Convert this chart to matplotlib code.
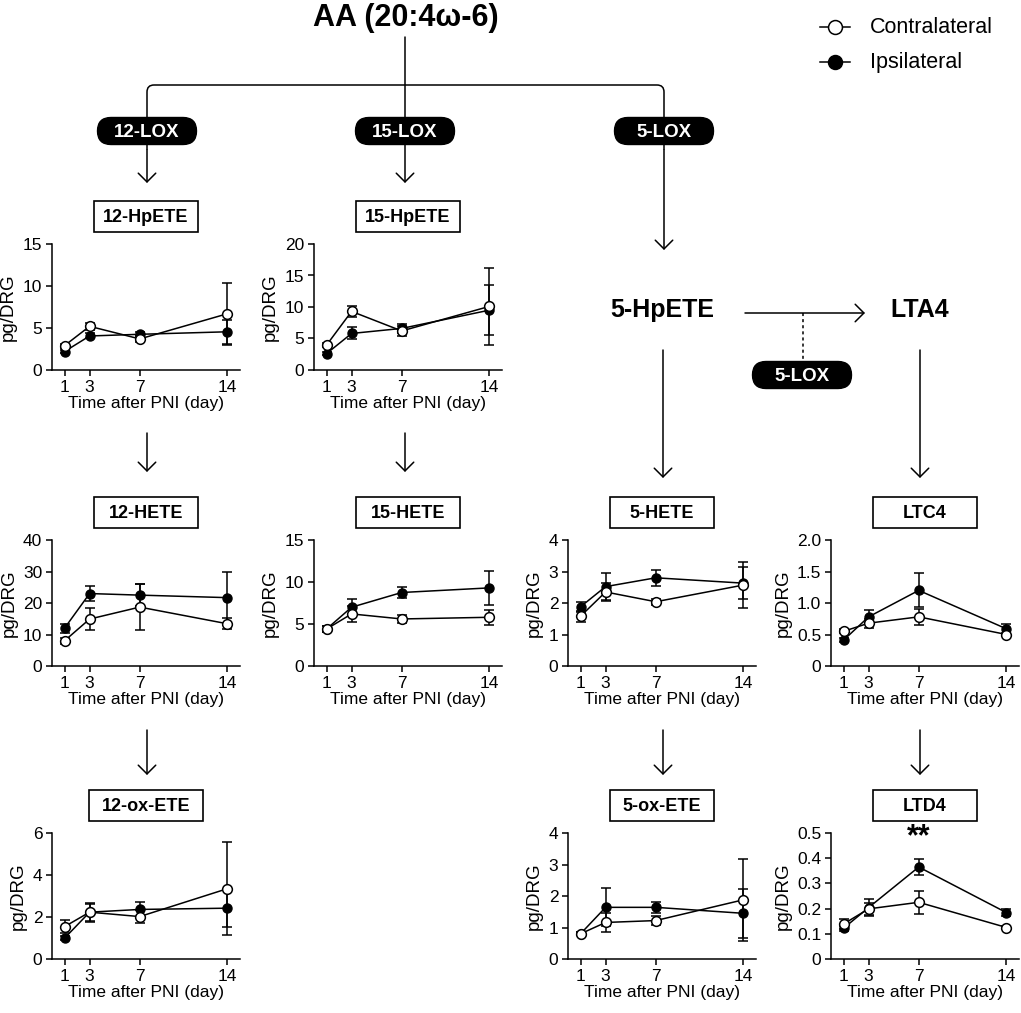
import matplotlib
matplotlib.use("Agg")
import matplotlib.pyplot as plt
from matplotlib.patches import FancyArrowPatch, FancyBboxPatch, Rectangle
from matplotlib.path import Path
from matplotlib.patches import PathPatch

plt.rcParams["font.family"] = ["Liberation Sans", "DejaVu Sans"]

W, H = 1021, 1013

days = [1, 3, 7, 14]

# 12-HpETE
hpete12_contra = [2.9, 5.2, 3.7, 6.7]
hpete12_contra_err = [0.25, 0.45, 0.4, 3.7]
hpete12_ipsi = [2.2, 4.05, 4.25, 4.55]
hpete12_ipsi_err = [0.2, 0.3, 0.25, 1.4]

# 15-HpETE
hpete15_contra = [3.95, 9.3, 6.2, 10.1]
hpete15_contra_err = [0.3, 0.9, 0.8, 6.1]
hpete15_ipsi = [2.6, 5.8, 6.6, 9.5]
hpete15_ipsi_err = [0.2, 0.95, 0.7, 4.0]

# 12-HETE
hete12_contra = [8.0, 14.9, 18.7, 13.4]
hete12_contra_err = [1.0, 3.5, 7.2, 1.7]
hete12_ipsi = [12.0, 23.0, 22.5, 21.7]
hete12_ipsi_err = [1.4, 2.5, 3.5, 8.3]

# 15-HETE
hete15_contra = [4.4, 6.2, 5.6, 5.8]
hete15_contra_err = [0.4, 1.0, 0.5, 0.9]
hete15_ipsi = [4.4, 7.0, 8.75, 9.3]
hete15_ipsi_err = [0.4, 1.0, 0.6, 2.0]

# 5-HETE
hete5_contra = [1.58, 2.35, 2.04, 2.57]
hete5_contra_err = [0.17, 0.28, 0.1, 0.72]
hete5_ipsi = [1.88, 2.52, 2.8, 2.63]
hete5_ipsi_err = [0.15, 0.43, 0.26, 0.5]

# LTC4
ltc4_contra = [0.55, 0.68, 0.78, 0.5]
ltc4_contra_err = [0.03, 0.07, 0.13, 0.03]
ltc4_ipsi = [0.41, 0.78, 1.2, 0.59]
ltc4_ipsi_err = [0.03, 0.11, 0.27, 0.08]

# 12-ox-ETE
oxete12_contra = [1.54, 2.23, 2.02, 3.35]
oxete12_contra_err = [0.3, 0.45, 0.3, 2.2]
oxete12_ipsi = [0.99, 2.23, 2.36, 2.42]
oxete12_ipsi_err = [0.1, 0.4, 0.35, 0.9]

# 5-ox-ETE
oxete5_contra = [0.8, 1.16, 1.22, 1.88]
oxete5_contra_err = [0.05, 0.3, 0.15, 1.3]
oxete5_ipsi = [0.8, 1.64, 1.64, 1.45]
oxete5_ipsi_err = [0.05, 0.6, 0.18, 0.78]

# LTD4
ltd4_contra = [0.139, 0.199, 0.225, 0.125]
ltd4_contra_err = [0.02, 0.025, 0.045, 0.005]
ltd4_ipsi = [0.122, 0.204, 0.365, 0.184]
ltd4_ipsi_err = [0.01, 0.035, 0.03, 0.015]

fig = plt.figure(figsize=(W / 100, H / 100), dpi=100)

# overlay in pixel coordinates for the pathway diagram
ov = fig.add_axes([0, 0, 1, 1])
ov.set_xlim(0, W)
ov.set_ylim(H, 0)
ov.axis("off")


def arrow(x0, y0, x1, y1):
    ov.add_patch(FancyArrowPatch((x0, y0), (x1, y1),
                                 arrowstyle="->,head_length=0.45,head_width=0.45",
                                 mutation_scale=14, lw=1.1, color="black",
                                 shrinkA=0, shrinkB=0))


def pill(x, y, label, w=99, h=27):
    ov.add_patch(FancyBboxPatch((x - w / 2, y - h / 2), w, h,
                                boxstyle=f"round,pad=0,rounding_size={h / 2}",
                                facecolor="black", edgecolor="black", zorder=5))
    ov.text(x, y + 1, label, color="white", fontsize=13.5, fontweight="bold",
            ha="center", va="center", zorder=6)


def label_box(x, y, label, w=104, h=31):
    ov.add_patch(Rectangle((x - w / 2, y - h / 2), w, h, facecolor="white",
                           edgecolor="black", lw=1.2, zorder=4))
    ov.text(x, y + 1, label, fontsize=13, fontweight="bold",
            ha="center", va="center", zorder=5)


# top of tree
ov.text(406, 18, "AA (20:4\u03c9-6)", fontsize=22, fontweight="bold",
        ha="center", va="center")
r = 7
verts = [(147, 150), (147, 85 + r), (147, 85), (147 + r, 85), (664 - r, 85),
         (664, 85), (664, 85 + r), (664, 150)]
codes = [Path.MOVETO, Path.LINETO, Path.CURVE3, Path.CURVE3, Path.LINETO,
         Path.CURVE3, Path.CURVE3, Path.LINETO]
ov.add_patch(PathPatch(Path(verts, codes), fill=False, lw=1.1, color="black"))
arrow(147, 150, 147, 183)
arrow(405, 37, 405, 183)
arrow(664, 150, 664, 250)
pill(147, 131, "12-LOX")
pill(405, 131, "15-LOX")
pill(664, 131, "5-LOX")

ov.text(662, 310, "5-HpETE", fontsize=18, fontweight="bold", ha="center", va="center")
ov.text(920, 310, "LTA4", fontsize=18, fontweight="bold", ha="center", va="center")
arrow(745, 313, 865, 313)
ov.plot([803, 803], [313, 362], ls=(0, (2, 2)), color="black", lw=1.1)
pill(802, 375, "5-LOX")

# arrows between rows
arrow(147, 433, 147, 472)
arrow(405, 433, 405, 472)
arrow(663, 350, 663, 478)
arrow(920, 350, 920, 478)
arrow(147, 730, 147, 775)
arrow(663, 730, 663, 775)
arrow(920, 730, 920, 775)

# legend
for yy, face, txt in [(27, "white", "Contralateral"), (62, "black", "Ipsilateral")]:
    ov.plot([820, 850], [yy, yy], color="black", lw=1.1)
    ov.plot([835], [yy], "o", ms=10, mfc=face, mec="black", mew=1.1)
    ov.text(870, yy, txt, fontsize=15.5, ha="left", va="center")

# panels: (col, row, label, contra, contra_err, ipsi, ipsi_err, yticks, ticklabels, box width)
col_left = [52, 314, 568, 831]
row_top = [244, 540, 833]
ax_w, ax_h = 188, 126

panels = [
    (0, 0, "12-HpETE", hpete12_contra, hpete12_contra_err, hpete12_ipsi, hpete12_ipsi_err,
     [0, 5, 10, 15], ["0", "5", "10", "15"], 104),
    (1, 0, "15-HpETE", hpete15_contra, hpete15_contra_err, hpete15_ipsi, hpete15_ipsi_err,
     [0, 5, 10, 15, 20], ["0", "5", "10", "15", "20"], 104),
    (0, 1, "12-HETE", hete12_contra, hete12_contra_err, hete12_ipsi, hete12_ipsi_err,
     [0, 10, 20, 30, 40], ["0", "10", "20", "30", "40"], 104),
    (1, 1, "15-HETE", hete15_contra, hete15_contra_err, hete15_ipsi, hete15_ipsi_err,
     [0, 5, 10, 15], ["0", "5", "10", "15"], 104),
    (2, 1, "5-HETE", hete5_contra, hete5_contra_err, hete5_ipsi, hete5_ipsi_err,
     [0, 1, 2, 3, 4], ["0", "1", "2", "3", "4"], 104),
    (3, 1, "LTC4", ltc4_contra, ltc4_contra_err, ltc4_ipsi, ltc4_ipsi_err,
     [0, 0.5, 1.0, 1.5, 2.0], ["0", "0.5", "1.0", "1.5", "2.0"], 104),
    (0, 2, "12-ox-ETE", oxete12_contra, oxete12_contra_err, oxete12_ipsi, oxete12_ipsi_err,
     [0, 2, 4, 6], ["0", "2", "4", "6"], 114),
    (2, 2, "5-ox-ETE", oxete5_contra, oxete5_contra_err, oxete5_ipsi, oxete5_ipsi_err,
     [0, 1, 2, 3, 4], ["0", "1", "2", "3", "4"], 104),
    (3, 2, "LTD4", ltd4_contra, ltd4_contra_err, ltd4_ipsi, ltd4_ipsi_err,
     [0, 0.1, 0.2, 0.3, 0.4, 0.5], ["0", "0.1", "0.2", "0.3", "0.4", "0.5"], 104),
]

for col, row, name, c, ce, ip, ipe, yt, ytl, bw in panels:
    left = col_left[col]
    top = row_top[row]
    ax = fig.add_axes([left / W, 1 - (top + ax_h) / H, ax_w / W, ax_h / H])
    ax.errorbar(days, ip, yerr=ipe, fmt="-o", color="black", mfc="black", mec="black",
                ms=6.5, lw=1.1, elinewidth=1.1, capsize=3.5, capthick=1.1, zorder=3)
    ax.errorbar(days, c, yerr=ce, fmt="-o", color="black", mfc="white", mec="black",
                mew=1.1, ms=7, lw=1.1, elinewidth=1.1, capsize=3.5, capthick=1.1, zorder=4)
    ax.set_xlim(0, 15)
    ax.set_ylim(yt[0], yt[-1])
    ax.set_xticks(days)
    ax.set_yticks(yt)
    ax.set_yticklabels(ytl)
    ax.spines["top"].set_visible(False)
    ax.spines["right"].set_visible(False)
    for s in ["left", "bottom"]:
        ax.spines[s].set_linewidth(1.1)
    ax.tick_params(direction="out", length=4, width=1.1, labelsize=12.5, pad=3)
    ax.set_ylabel("pg/DRG", fontsize=13.5, labelpad=4)
    ax.set_xlabel("Time after PNI (day)", fontsize=12.5, labelpad=1)
    ax.patch.set_alpha(0)
    for ln in ax.get_lines():
        ln.set_clip_on(False)
    label_box(left + ax_w / 2, top - 28, name, w=bw)
    if name == "LTD4":
        ax.text(7, 0.425, "**", fontsize=22, fontweight="bold", ha="center", va="bottom")

fig.savefig("out.png", dpi=100)
